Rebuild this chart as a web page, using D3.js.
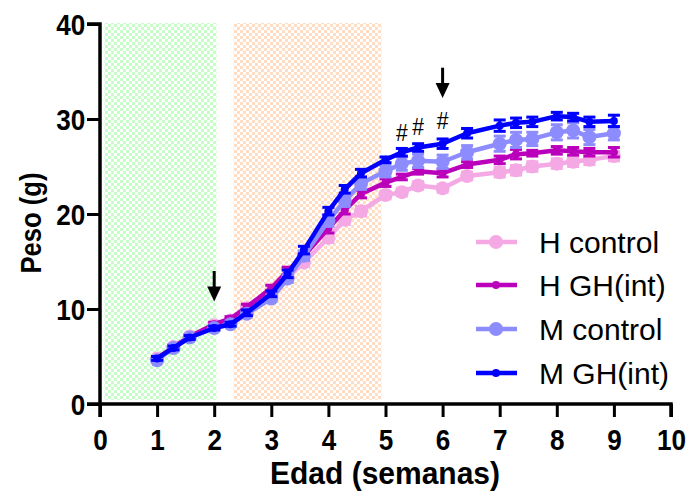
<!DOCTYPE html>
<html>
<head>
<meta charset="utf-8">
<script src="https://cdn.jsdelivr.net/npm/d3@7"></script>
<style>
  html, body { margin: 0; padding: 0; background: #fff; }
  svg { display: block; }
  text { font-family: "Liberation Sans", Arial, sans-serif; }
</style>
</head>
<body>
<svg id="chart" width="690" height="495"></svg>
<script>
// ---------------- data ----------------
const weeks = [1, 1.286, 1.571, 2, 2.286, 2.571, 3, 3.286, 3.571, 4, 4.286, 4.571,
               5, 5.286, 5.571, 6, 6.429, 7, 7.286, 7.571, 8, 8.286, 8.571, 9];

const hControl = [4.8, 6.0, 7.1, 8.3, 8.8, 10.1, 11.8, 13.3, 14.9, 17.5, 19.4, 20.3,
                  22.0, 22.3, 23.0, 22.7, 24.0, 24.4, 24.6, 25.0, 25.3, 25.5, 25.7, 26.1];
const hControlErr = [0.2, 0.2, 0.2, 0.2, 0.2, 0.3, 0.3, 0.4, 0.4, 0.5, 0.5, 0.5,
                     0.4, 0.4, 0.4, 0.4, 0.4, 0.5, 0.5, 0.5, 0.5, 0.5, 0.5, 0.5];

const hGH = [4.8, 6.0, 7.1, 8.4, 9.0, 10.2, 12.2, 14.0, 15.6, 18.5, 20.4, 22.1,
             23.3, 23.9, 24.5, 24.3, 25.2, 25.7, 26.3, 26.4, 26.7, 26.6, 26.5, 26.5];
const hGHErr = [0.2, 0.2, 0.2, 0.2, 0.2, 0.3, 0.3, 0.4, 0.4, 0.5, 0.4, 0.4,
                0.4, 0.3, 0.3, 0.4, 0.3, 0.4, 0.5, 0.3, 0.4, 0.4, 0.4, 0.5];

const mControl = [4.6, 5.9, 7.0, 8.0, 8.4, 9.5, 11.1, 13.2, 15.6, 19.3, 21.4, 23.2,
                  24.5, 25.3, 25.6, 25.5, 26.5, 27.4, 27.8, 27.9, 28.6, 28.8, 28.1, 28.5];
const mControlErr = [0.2, 0.2, 0.2, 0.2, 0.2, 0.3, 0.3, 0.4, 0.5, 0.6, 0.6, 0.6,
                     0.6, 0.7, 0.7, 0.7, 0.7, 0.8, 0.8, 0.7, 0.8, 0.8, 0.8, 0.7];

const mGH = [4.8, 5.9, 7.0, 8.0, 8.4, 9.6, 11.6, 13.7, 16.2, 20.3, 22.6, 24.3,
             25.7, 26.5, 27.0, 27.4, 28.5, 29.3, 29.6, 29.7, 30.3, 30.2, 29.7, 29.8];
const mGHErr = [0.2, 0.2, 0.2, 0.2, 0.2, 0.3, 0.3, 0.4, 0.4, 0.4, 0.4, 0.4,
                0.3, 0.4, 0.4, 0.5, 0.5, 0.6, 0.5, 0.5, 0.4, 0.4, 0.5, 0.6];

const seriesNames = ["H control", "H GH(int)", "M control", "M GH(int)"];

const xTicks = [0, 1, 2, 3, 4, 5, 6, 7, 8, 9, 10];
const yTicks = [0, 10, 20, 30, 40];

const bandStart = [0.08, 2.34];
const bandEnd = [2.04, 4.93];

const hashX = [5.286, 5.571, 6];
const hashY = [28.5, 29.2, 29.8];

const arrowX = [2, 6];
const arrowTop = [14.0, 35.4];
const arrowTip = [10.8, 32.2];

// ---------------- styles ----------------
const colors = ["#f5a9e4", "#bb00bb", "#8c8cff", "#0000ff"];
const radius = [7, 4, 7, 4];
const series = [
  { name: seriesNames[0], values: hControl, err: hControlErr },
  { name: seriesNames[1], values: hGH, err: hGHErr },
  { name: seriesNames[2], values: mControl, err: mControlErr },
  { name: seriesNames[3], values: mGH, err: mGHErr }
];

const svg = d3.select("#chart");
const x = d3.scaleLinear().domain([0, 10]).range([100, 671]);
const y = d3.scaleLinear().domain([0, 40]).range([404, 24]);

// patterns
const defs = svg.append("defs");
function checker(id, col) {
  const p = defs.append("pattern").attr("id", id).attr("patternUnits", "userSpaceOnUse")
    .attr("width", 6).attr("height", 6);
  p.append("rect").attr("width", 6).attr("height", 6).attr("fill", "#ffffff");
  p.append("rect").attr("x", 0).attr("y", 0).attr("width", 3).attr("height", 3).attr("fill", col);
  p.append("rect").attr("x", 3).attr("y", 3).attr("width", 3).attr("height", 3).attr("fill", col);
}
checker("pGreen", "#c6fcc6");
checker("pOrange", "#ffdcc2");
const bandFill = ["url(#pGreen)", "url(#pOrange)"];

svg.append("g").selectAll("rect").data(bandStart).join("rect")
  .attr("x", (d) => x(d))
  .attr("width", (d, i) => x(bandEnd[i]) - x(d))
  .attr("y", y(40.1))
  .attr("height", y(0.45) - y(40.1))
  .attr("fill", (d, i) => bandFill[i]);

// series
series.forEach((s, si) => {
  const g = svg.append("g");
  const pts = weeks.map((w, i) => ({ x: w, y: s.values[i], e: s.err[i] }));
  const eb = g.append("g").attr("stroke", colors[si]).attr("stroke-width", 3);
  pts.forEach((p) => {
    eb.append("line").attr("x1", x(p.x)).attr("x2", x(p.x)).attr("y1", y(p.y - p.e)).attr("y2", y(p.y + p.e));
    [p.y - p.e, p.y + p.e].forEach((v) => {
      eb.append("line").attr("x1", x(p.x) - 6).attr("x2", x(p.x) + 6).attr("y1", y(v)).attr("y2", y(v));
    });
  });
  g.append("path").datum(pts)
    .attr("fill", "none").attr("stroke", colors[si]).attr("stroke-width", 4.5)
    .attr("stroke-linejoin", "round")
    .attr("d", d3.line().x((d) => x(d.x)).y((d) => y(d.y)));
  g.selectAll("circle").data(pts).join("circle")
    .attr("cx", (d) => x(d.x)).attr("cy", (d) => y(d.y)).attr("r", radius[si])
    .attr("fill", colors[si]);
});

// axes
const xAxis = svg.append("g").attr("transform", `translate(0,${y(0)})`)
  .call(d3.axisBottom(x).tickValues(xTicks).tickSize(13).tickPadding(12).tickFormat(d3.format("d")));
const yAxis = svg.append("g").attr("transform", `translate(${x(0)},0)`)
  .call(d3.axisLeft(y).tickValues(yTicks).tickSize(13).tickPadding(3).tickFormat(d3.format("d")));
[xAxis, yAxis].forEach((a) => {
  a.select(".domain").attr("stroke", "#000").attr("stroke-width", 3.5);
  a.selectAll(".tick line").attr("stroke", "#000").attr("stroke-width", 3);
  a.selectAll(".tick text").attr("fill", "#000").attr("font-size", 29).attr("font-weight", "bold")
    .attr("font-family", "'Liberation Sans', Arial, sans-serif");
});
xAxis.select(".domain").attr("d", `M${x(0)},13V0H${x(10)}V13`);
yAxis.select(".domain").attr("d", `M-13,${y(40)}H0V${y(0)}H-13`);
yAxis.selectAll(".tick text").attr("dy", "0.36em").attr("x", -16.5).attr("transform", "scale(0.9,1)");
xAxis.selectAll(".tick text").attr("dy", "0.71em").attr("y", 25).attr("transform", "scale(0.9,1)");

// axis titles
svg.append("text").attr("x", 385).attr("y", 484).attr("text-anchor", "middle")
  .attr("font-size", 32).attr("font-weight", "bold")
  .attr("textLength", 230).attr("lengthAdjust", "spacingAndGlyphs").text("Edad (semanas)");
svg.append("text").attr("transform", "translate(41,223) rotate(-90)").attr("text-anchor", "middle")
  .attr("font-size", 29).attr("font-weight", "bold")
  .attr("textLength", 101).attr("lengthAdjust", "spacingAndGlyphs").text("Peso (g)");

// hash annotations
svg.append("g").selectAll("text").data(hashX).join("text")
  .attr("x", (d) => x(d)).attr("y", (d, i) => y(hashY[i]))
  .attr("text-anchor", "middle").attr("dominant-baseline", "central")
  .attr("font-size", 24).attr("transform", (d, i) => `translate(${x(d) * 0.12},0) scale(0.88,1)`).text("#");

// arrows
const ag = svg.append("g");
arrowX.forEach((ax, i) => {
  const px = x(ax), top = y(arrowTop[i]), tip = y(arrowTip[i]);
  ag.append("line").attr("x1", px).attr("x2", px).attr("y1", top).attr("y2", tip - 12)
    .attr("stroke", "#000").attr("stroke-width", 3);
  ag.append("path").attr("d", `M${px - 7},${tip - 15}L${px + 7},${tip - 15}L${px},${tip}Z`).attr("fill", "#000");
});

// legend
const lg = svg.append("g");
const legY = [242, 285, 329, 373];
series.forEach((s, i) => {
  lg.append("line").attr("x1", 476).attr("x2", 517).attr("y1", legY[i]).attr("y2", legY[i])
    .attr("stroke", colors[i]).attr("stroke-width", 4.5);
  lg.append("circle").attr("cx", 496).attr("cy", legY[i]).attr("r", radius[i]).attr("fill", colors[i]);
  lg.append("text").attr("x", 539).attr("y", legY[i] + 11).attr("font-size", 30).text(s.name);
});
</script>
</body>
</html>
